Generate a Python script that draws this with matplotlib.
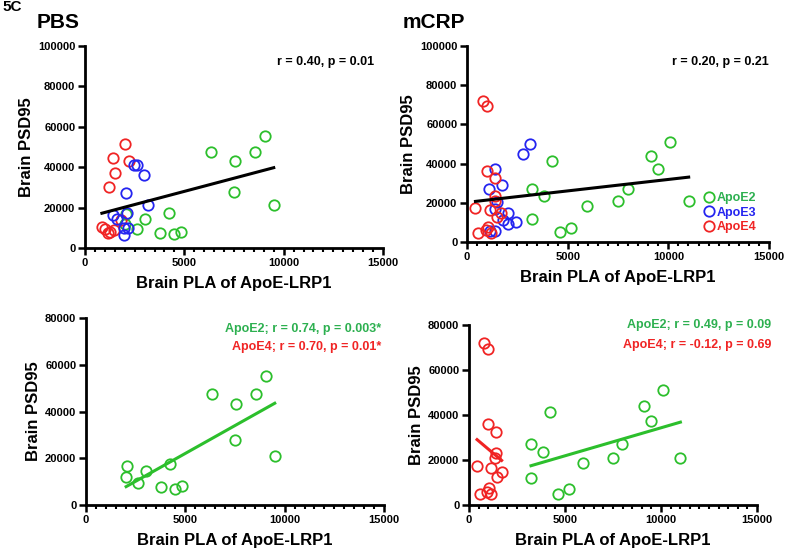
import matplotlib
matplotlib.use("Agg")
import matplotlib.pyplot as plt
import numpy as np
from matplotlib.ticker import MultipleLocator

plt.rcParams["font.family"] = ["Liberation Sans", "DejaVu Sans"]

GREEN = "#2cbf2c"
GREEN_TXT = "#2db050"
BLUE = "#2424f0"
RED = "#f02424"

# PBS group: (PLA ApoE-LRP1, PSD95)
pbs_e2_x = [2020, 2060, 2610, 3030, 3750, 4230, 4460, 4820, 6320, 7490, 7540, 8580, 9080, 9500]
pbs_e2_y = [12000, 16860, 9570, 14430, 7570, 17430, 6710, 8140, 47430, 27710, 43290, 47570, 55290, 21140]
pbs_e3_x = [2480, 2630, 2970, 2050, 3150, 1430, 1590, 2100, 1980, 2150, 1980]
pbs_e3_y = [41320, 41160, 36030, 27440, 21160, 16530, 14550, 17190, 9920, 9750, 6450]
pbs_e4_x = [2010, 1430, 2230, 1490, 1190, 850, 1000, 1150, 1250, 1450, 1810]
pbs_e4_y = [51730, 44630, 43300, 37360, 30080, 10300, 9500, 7500, 8000, 9000, 13900]

# mCRP group
mcrp_e2_x = [10080, 9120, 9490, 4210, 3230, 3830, 7980, 7480, 11010, 5940, 3230, 5190, 4640]
mcrp_e2_y = [51020, 43900, 37120, 41190, 26950, 23390, 26950, 21020, 21020, 18470, 11860, 7290, 4920]
mcrp_e3_x = [3130, 2790, 1390, 1080, 1760, 1510, 1380, 2040, 1790, 2040, 2420, 1160, 1390]
mcrp_e3_y = [49830, 44750, 37120, 27120, 29320, 20510, 16610, 14920, 11360, 9150, 10000, 5420, 5420]
mcrp_e4_x = [800, 970, 1010, 1410, 1410, 1370, 420, 1130, 1700, 1480, 1030, 920, 570, 1170]
mcrp_e4_y = [71850, 69190, 36000, 32590, 23260, 21040, 17480, 16300, 14810, 12590, 7700, 5930, 4740, 4740]

W, H = 786, 552
fig = plt.figure(figsize=(W / 100, H / 100), dpi=100)


def make_ax(l, r, t, b, ymax):
    ax = fig.add_axes([l / W, 1 - b / H, (r - l) / W, (b - t) / H])
    ax.set_xlim(0, 15000)
    ax.set_ylim(0, ymax)
    ax.xaxis.set_major_locator(MultipleLocator(5000))
    ax.xaxis.set_minor_locator(MultipleLocator(500))
    ax.yaxis.set_major_locator(MultipleLocator(20000))
    for s in ["top", "right"]:
        ax.spines[s].set_visible(False)
    for s in ["left", "bottom"]:
        ax.spines[s].set_linewidth(2)
    ax.tick_params(which="major", length=5, width=1.8, labelsize=8, pad=2)
    ax.tick_params(which="minor", length=3, width=1.5)
    for lab in ax.get_xticklabels() + ax.get_yticklabels():
        lab.set_fontweight("bold")
    ax.set_xlabel("Brain PLA of ApoE-LRP1", fontsize=12, fontweight="bold", labelpad=6)
    ax.set_ylabel("Brain PSD95", fontsize=12, fontweight="bold", labelpad=3)
    return ax


def scatter(ax, x, y, c, label=None):
    ax.plot(x, y, "o", mfc="none", mec=c, mew=1.3, ms=7.5, ls="none", label=label, clip_on=False)


def fit(ax, x, y, c):
    x = np.asarray(x, float)
    y = np.asarray(y, float)
    k, b = np.polyfit(x, y, 1)
    xs = np.array([x.min(), x.max()])
    ax.plot(xs, k * xs + b, color=c, lw=2.2)


# top-left: PBS, all genotypes
ax1 = make_ax(85, 383, 46, 248, 100000)
scatter(ax1, pbs_e2_x, pbs_e2_y, GREEN)
scatter(ax1, pbs_e4_x, pbs_e4_y, RED)
scatter(ax1, pbs_e3_x, pbs_e3_y, BLUE)
fit(ax1, pbs_e2_x + pbs_e3_x + pbs_e4_x, pbs_e2_y + pbs_e3_y + pbs_e4_y, "black")
ax1.text(0.97, 0.92, "r = 0.40, p = 0.01", transform=ax1.transAxes, ha="right", va="center",
         fontsize=9, fontweight="bold")

# top-right: mCRP, all genotypes
ax2 = make_ax(467, 769, 46, 242, 100000)
scatter(ax2, mcrp_e2_x, mcrp_e2_y, GREEN, "ApoE2")
scatter(ax2, mcrp_e3_x, mcrp_e3_y, BLUE, "ApoE3")
scatter(ax2, mcrp_e4_x, mcrp_e4_y, RED, "ApoE4")
fit(ax2, mcrp_e2_x + mcrp_e3_x + mcrp_e4_x, mcrp_e2_y + mcrp_e3_y + mcrp_e4_y, "black")
ax2.text(1.0, 0.92, "r = 0.20, p = 0.21", transform=ax2.transAxes, ha="right", va="center",
         fontsize=9, fontweight="bold")
leg = ax2.legend(loc="lower left", bbox_to_anchor=(0.76, 0.0), frameon=False, handlelength=0.6,
                 handletextpad=0.3, labelspacing=0.2, borderaxespad=0.3,
                 prop={"weight": "bold", "size": 9})
for t, c in zip(leg.get_texts(), [GREEN_TXT, BLUE, RED]):
    t.set_color(c)

# bottom-left: PBS, ApoE2 only
ax3 = make_ax(86, 384, 318, 505, 80000)
scatter(ax3, pbs_e2_x, pbs_e2_y, GREEN)
fit(ax3, pbs_e2_x, pbs_e2_y, GREEN)
ax3.text(0.99, 0.94, "ApoE2; r = 0.74, p = 0.003*", transform=ax3.transAxes, ha="right", va="center",
         fontsize=9, fontweight="bold", color=GREEN_TXT)
ax3.text(0.99, 0.845, "ApoE4; r = 0.70, p = 0.01*", transform=ax3.transAxes, ha="right", va="center",
         fontsize=9, fontweight="bold", color=RED)

# bottom-right: mCRP, ApoE2 and ApoE4
ax4 = make_ax(469, 757, 325, 505, 80000)
scatter(ax4, mcrp_e2_x, mcrp_e2_y, GREEN)
scatter(ax4, mcrp_e4_x, mcrp_e4_y, RED)
fit(ax4, mcrp_e2_x, mcrp_e2_y, GREEN)
fit(ax4, mcrp_e4_x, mcrp_e4_y, RED)
ax4.text(1.05, 1.0, "ApoE2; r = 0.49, p = 0.09", transform=ax4.transAxes, ha="right", va="center",
         fontsize=9, fontweight="bold", color=GREEN_TXT)
ax4.text(1.05, 0.89, "ApoE4; r = -0.12, p = 0.69", transform=ax4.transAxes, ha="right", va="center",
         fontsize=9, fontweight="bold", color=RED)

fig.text(2 / W, 1 - 7 / H, "5C", fontsize=11, fontweight="bold", ha="left", va="center")
fig.text(37 / W, 1 - 22 / H, "PBS", fontsize=15, fontweight="bold", ha="left", va="center")
fig.text(403 / W, 1 - 22 / H, "mCRP", fontsize=15, fontweight="bold", ha="left", va="center")

fig.savefig("out.png", dpi=100)
